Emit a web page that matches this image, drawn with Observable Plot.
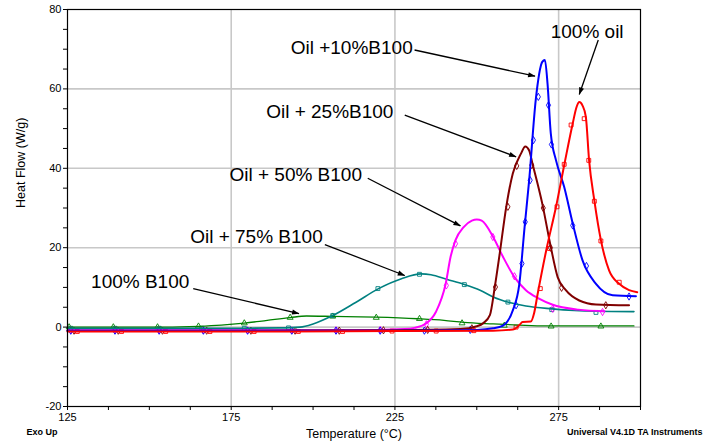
<!DOCTYPE html>
<html>
<head>
<meta charset="utf-8">
<script src="https://cdn.jsdelivr.net/npm/d3@7"></script>
<script src="https://cdn.jsdelivr.net/npm/@observablehq/plot@0.6"></script>
<style>
  html, body { margin: 0; padding: 0; background: #fff; }
  #chart svg { display: block; }
</style>
</head>
<body>
<div id="chart"></div>
<script>
// ---- Data (Temperature °C, Heat Flow W/g) ----
const seriesNames = ["100% B100", "Oil + 75% B100", "Oil + 50% B100", "Oil + 25%B100", "Oil +10%B100", "100% oil"];

const b100T  = [125,140,155,165,172,179,186,193,198,206,219,232,240,246,255,263,271,285,298];
const b100HF = [0,0,0,0.2,0.5,1.0,1.7,2.4,2.8,2.7,2.5,2.1,1.7,1.2,0.8,0.5,0.3,0.3,0.3];

const b75T  = [125,150,175,190,196,200,206,213,220,227,233,236,241,246,251,255,260,265,273,286,298];
const b75HF = [-0.3,-0.3,-0.3,-0.2,0,0.8,2.9,6.2,9.7,12.2,13.4,13.2,12.0,10.8,9.3,7.6,6.2,5.3,4.6,4.0,3.9];

const b50T  = [125,175,220,228,231,234.5,237.5,240.5,242,243.5,246,248.5,250,251.5,255,258,261.5,265,269,273,281,289];
const b50HF = [-0.8,-0.8,-0.7,-0.5,-0.2,0.9,3.8,10.9,17.7,21.9,25.2,26.8,27.1,26.8,22.7,17.7,12.6,9.3,7.2,5.7,4.4,4.0];

const b25T  = [125,175,225,245,250,252,254,255.5,257,259,261,263.5,264.8,266,267,270,272.6,274.7,277.2,281.3,286.4,296.5];
const b25HF = [-0.9,-0.9,-0.8,-0.5,0.2,1.0,3.0,10.1,18.5,30.3,38.7,43.7,45.5,44.5,41.2,31.1,20.2,12.6,9.3,6.7,5.7,5.5];

const b10T  = [125,175,225,250,255,258,261,263,264.6,266,268,270,270.8,271.6,272.6,274.2,276.7,279.3,282.3,286.4,291.5,298.6];
const b10HF = [-0.9,-0.9,-0.9,-0.7,-0.3,0.4,4.2,10.9,25.2,37,57.2,66.8,67.3,61.4,48.8,42,35.3,26.1,16.8,10.9,8.0,7.8];

const oilT  = [125,175,225,255,261,263,264,266.5,267.5,268.6,271.2,274.2,276.8,279.3,280.5,281.3,282.3,283.3,284.3,285.9,287.9,290.4,293.5,296.5,299];
const oilHF = [-1.1,-1.1,-1.0,-0.9,-0.6,0.5,1.3,1.4,3.5,8.4,19.3,30.3,41.2,51.3,55.5,56.7,55.8,53,42,31.9,21.9,14.3,10.9,9.3,8.8];

// marker points
const b100MT  = [125.5,139,152.5,165,179,193,206,219.3,232.5,245.5,258.4,272.7,287.9];
const b100MHF = [0,0,0,0.2,1.0,2.4,2.7,2.4,2.1,1.0,0.4,0.2,0.2];
const b75MT   = [126,139.5,153,166,179,192.5,206,219.8,232.5,246.2,259.5,272.9,286.4];
const b75MHF  = [-0.3,-0.3,-0.3,-0.3,-0.3,-0.2,2.9,9.7,13.3,10.7,6.3,4.4,3.7];
const b50MT   = [126,139.5,153,166.5,180,193.5,207,220.5,234.6,240.7,243.5,254.9,261.5,273.2,288.4];
const b50MHF  = [-0.8,-0.8,-0.8,-0.8,-0.8,-0.8,-0.8,-0.7,0.7,10.5,21,22.7,12.8,4.6,3.8];
const b25MT   = [127,140.5,154,167.5,181,194.5,208,221.5,235,248.5,255.7,259.5,262.2,266.8,270.3,272.5,275.9,289.4];
const b25MHF  = [-0.9,-0.9,-0.9,-0.9,-0.9,-0.9,-0.9,-0.8,-0.7,-0.3,10.1,30.3,40.6,40.8,30,20,9.9,5.5];
const b10MT   = [126,139.5,153,166.5,180,193.5,207,220.5,234,248,262,263.8,264.8,266.3,267.3,268.8,271.9,272.8,279.3,283.5,296.5];
const b10MHF  = [-0.9,-0.9,-0.9,-0.9,-0.9,-0.9,-0.9,-0.9,-0.9,-0.7,5.5,16,26.5,37,47.1,58,55.9,46,25.6,15.4,7.7];
const oilMT   = [128,141.5,155,168.5,182,195.5,209,224.1,237.6,249.1,262,269.4,272.2,274.5,276.7,278.8,282.8,284.2,285.9,287.9,293.5];
const oilMHF  = [-1.1,-1.1,-1.1,-1.1,-1.1,-1.1,-1.1,-1.0,-1.0,-0.9,0,9.7,19.8,30.3,41,50.9,52.5,42,31.7,21.7,11.3];

// annotation labels and arrows
const labelText = ["100% oil", "Oil +10%B100", "Oil + 25%B100", "Oil + 50% B100", "Oil + 75% B100", "100% B100"];
const labelX = [283.7, 211.8, 205.1, 194.7, 182.7, 147.2];
const labelY = [74.4, 70.3, 54.2, 38.3, 22.7, 11.5];
const arrowX1 = [287.1, 231.0, 228.0, 216.7, 203.6, 163.4];
const arrowY1 = [72.3, 69.8, 53.4, 37.5, 20.8, 9.7];
const arrowX2 = [281.3, 267.8, 262.0, 245.0, 228.0, 195.7];
const arrowY2 = [58.6, 63.2, 42.9, 25.5, 13.0, 3.4];

const xTicks = d3.range(125, 300.1, 12.5);
const yTicks = d3.range(-20, 80.1, 5);

// ---- build tables ----
const curves = [
  [b100T, b100HF], [b75T, b75HF], [b50T, b50HF], [b25T, b25HF], [b10T, b10HF], [oilT, oilHF]
];
const markers = [
  [b100MT, b100MHF], [b75MT, b75MHF], [b50MT, b50MHF], [b25MT, b25MHF], [b10MT, b10MHF], [oilMT, oilMHF]
];
const colors = ["#008000", "#008080", "#ff00ff", "#800000", "#0000ff", "#ff0000"];
const widths = [1.3, 1.6, 2, 2, 2, 2];
const symbols = ["triangle", "square", "diamond", "diamond", "diamond", "square"];

const lineMarks = curves.map(([T, H], i) =>
  Plot.line(T.map((t, j) => ({t, h: H[j]})), {
    x: "t", y: "h", stroke: colors[i], strokeWidth: widths[i], curve: "monotone-x"
  })
);
const dotMarks = markers.map(([T, H], i) =>
  Plot.dot(T.map((t, j) => ({t, h: H[j]})), {
    x: "t", y: "h", stroke: colors[i], fill: "none", r: 2.2, strokeWidth: 0.9, symbol: symbols[i]
  })
);
const labels = labelText.map((text, i) => ({text, x: labelX[i], y: labelY[i]}));
const arrows = labelText.map((text, i) => ({x1: arrowX1[i], y1: arrowY1[i], x2: arrowX2[i], y2: arrowY2[i]}));

const plot = Plot.plot({
  width: 712,
  height: 445,
  marginLeft: 67,
  marginRight: 72,
  marginTop: 9,
  marginBottom: 39,
  style: {fontFamily: "Liberation Sans, Arial, sans-serif", background: "white", color: "black"},
  x: {domain: [125, 300]},
  y: {domain: [-20, 80]},
  marks: [
    Plot.gridX([175, 225, 275], {stroke: "#c8c8c8", strokeOpacity: 1, strokeWidth: 1.6}),
    Plot.gridY([0, 20, 40, 60], {stroke: "#c8c8c8", strokeOpacity: 1, strokeWidth: 1.6}),
    ...dotMarks,
    ...lineMarks,
    Plot.frame({stroke: "black", strokeWidth: 1.2}),
    Plot.axisX({ticks: xTicks, tickFormat: d => (d % 50 === 25 ? d : ""), tickSize: 4, label: null, fontSize: 11, tickPadding: 3}),
    Plot.axisY({ticks: yTicks, tickFormat: d => (d % 20 === 0 ? d : ""), tickSize: 4, label: null, fontSize: 11, tickPadding: 2}),
    Plot.link(arrows, {x1: "x1", y1: "y1", x2: "x2", y2: "y2", stroke: "black", strokeWidth: 1.3, markerEnd: "arrow"}),
    Plot.text(labels, {x: "x", y: "y", text: "text", fontSize: 19, fill: "black"}),
    Plot.text(["Temperature (°C)"], {frameAnchor: "bottom", dy: 31, fontSize: 12.5, fill: "black"}),
    Plot.text(["Heat Flow (W/g)"], {frameAnchor: "left", dx: -47, rotate: -90, fontSize: 12.5, fill: "black"}),
    Plot.text(["Exo Up"], {frameAnchor: "bottom-left", dx: -41, dy: 28, textAnchor: "start", fontSize: 9, fontWeight: "bold", fill: "black"}),
    Plot.text(["Universal V4.1D TA Instruments"], {frameAnchor: "bottom-right", dx: 62, dy: 28, textAnchor: "end", fontSize: 9, fontWeight: "bold", fill: "black"})
  ]
});

// filled arrowheads
d3.select(plot).selectAll("marker")
  .attr("viewBox", "-9 -5 10 10")
  .attr("fill", "black")
  .attr("stroke", "none")
  .selectAll("path")
  .attr("d", "M-8,-3L0.5,0L-8,3Z");

document.getElementById("chart").appendChild(plot);
</script>
</body>
</html>
